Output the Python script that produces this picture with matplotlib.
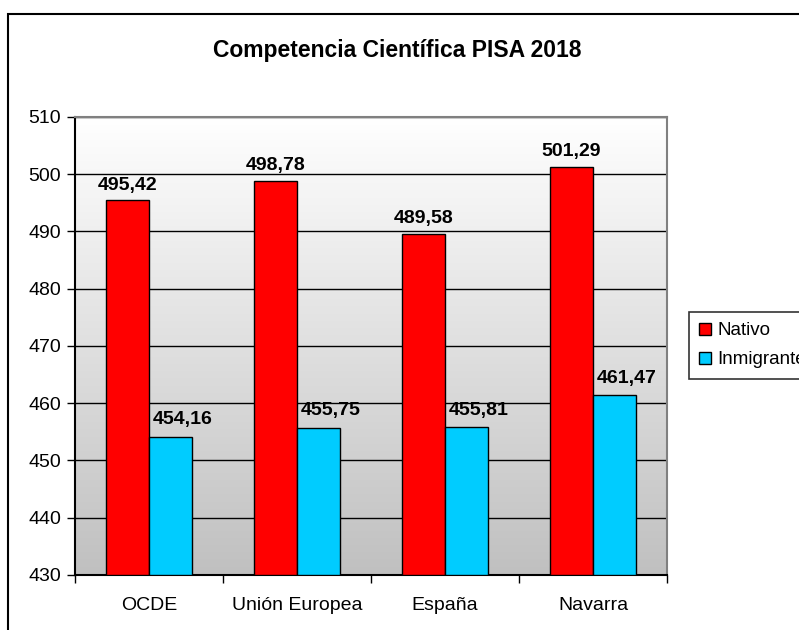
import numpy as np
import matplotlib.pyplot as plt
from matplotlib.patches import Rectangle
from matplotlib.colors import LinearSegmentedColormap

plt.rcParams['font.family'] = ['Liberation Sans', 'DejaVu Sans']

categories = ['OCDE', 'Unión Europea', 'España', 'Navarra']
nativo = [495.42, 498.78, 489.58, 501.29]
inmigrante = [454.16, 455.75, 455.81, 461.47]
yticks = [430, 440, 450, 460, 470, 480, 490, 500, 510]

fig = plt.figure(figsize=(7.99, 6.30), dpi=100)
ax = fig.add_axes([75 / 799, 1 - 575 / 630, 592 / 799, 458 / 630])

# chart frame (cut at right and bottom like the original)
fig.patches.append(Rectangle((8 / 799, -0.2), 1.2, 1.2 - 14 / 630, transform=fig.transFigure,
                             fill=False, edgecolor='black', linewidth=1.5))

# gradient background of the plot area
grad = np.linspace(1, 0, 256).reshape(-1, 1)
cmap = LinearSegmentedColormap.from_list('g', ['#c0c0c0', '#ffffff'])
ax.imshow(grad, extent=[-0.5, 3.5, 430, 510], aspect='auto', cmap=cmap, zorder=0, origin='upper')

x = np.arange(len(categories))
w = 0.29
b1 = ax.bar(x - w / 2, [v - 430 for v in nativo], w, bottom=430, color='#ff0000', edgecolor='black',
            linewidth=1, label='Nativo', zorder=3)
b2 = ax.bar(x + w / 2, [v - 430 for v in inmigrante], w, bottom=430, color='#00ccff', edgecolor='black',
            linewidth=1, label='Inmigrante', zorder=3)

for i in range(len(categories)):
    ax.annotate(f'{nativo[i]:.2f}'.replace('.', ','), (x[i] - w / 2, nativo[i]), xytext=(0, 5),
                textcoords='offset points', ha='center', va='bottom', fontsize=14, fontweight='bold', zorder=4)
    ax.annotate(f'{inmigrante[i]:.2f}'.replace('.', ','), (x[i] + w / 2, inmigrante[i]), xytext=(9, 6),
                textcoords='offset points', ha='center', va='bottom', fontsize=14, fontweight='bold', zorder=4)

ax.set_xlim(-0.5, 3.5)
ax.set_ylim(430, 510)
ax.set_yticks(yticks)
ax.yaxis.grid(True, color='black', linewidth=1)
ax.set_axisbelow(True)
for g in ax.get_ygridlines():
    g.set_zorder(1)

ax.set_xticks(x)
ax.set_xticklabels(categories)
ax.set_xticks(np.arange(-0.5, 4, 1), minor=True)
ax.tick_params(axis='x', which='major', length=0, pad=16, labelsize=14)
ax.tick_params(axis='x', which='minor', length=6, width=1, direction='out')
ax.tick_params(axis='y', length=6, width=1, direction='out', labelsize=14, pad=4)

for s in ['top', 'right']:
    ax.spines[s].set_color('#808080')
    ax.spines[s].set_linewidth(1.5)
ax.spines['left'].set_linewidth(1.5)
ax.spines['bottom'].set_linewidth(1.5)

fig.text(0.497, 1 - 50 / 630, 'Competencia Científica PISA 2018', ha='center', va='center',
         fontsize=16.5, fontweight='bold')

# legend runs past the right edge, as in the original
fig.legend(handles=[b1, b2], loc='upper left', bbox_to_anchor=(689 / 799, 1 - 312 / 630),
           fontsize=13.5, frameon=True, fancybox=False, edgecolor='black', handlelength=0.6,
           handleheight=0.6, handletextpad=0.35, borderpad=0.55, labelspacing=0.65, borderaxespad=0)
fig.legends[0].get_frame().set_linewidth(1.2)

plt.savefig('out.png', dpi=100)
